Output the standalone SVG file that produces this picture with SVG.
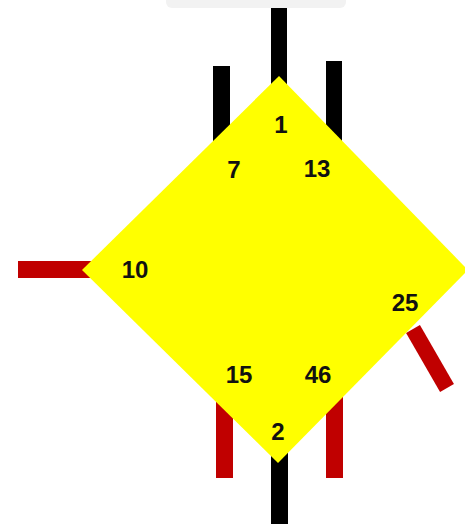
<svg xmlns="http://www.w3.org/2000/svg" width="465" height="524" viewBox="0 0 465 524">
<style>
.blk{fill:#000000}
.red{fill:#c00000}
.lbl{font-family:"Liberation Sans",Arial,sans-serif;font-weight:bold;font-size:24px;fill:#111111;text-anchor:middle}
</style>
<rect x="0" y="0" width="465" height="524" fill="#ffffff"/>
<rect x="166" y="-6" width="180" height="14" rx="6" fill="#f2f2f2"/>
<g id="connectors">
<rect class="blk" x="271" y="8" width="16" height="90"/>
<rect class="blk" x="213" y="66" width="17" height="90"/>
<rect class="blk" x="326" y="61" width="16" height="90"/>
<rect class="red" x="18" y="261" width="82" height="17"/>
<rect class="red" x="-8" y="0" width="16" height="68" transform="translate(413,329) rotate(-30)"/>
<rect class="red" x="216" y="390" width="17" height="88"/>
<rect class="red" x="326" y="390" width="17" height="88"/>
<rect class="blk" x="271" y="440" width="17" height="90"/>
</g>
<g id="diamond">
<polygon points="279,76 468,270 278,463 82,270" fill="#ffff00"/>
</g>
<g id="labels">
<text class="lbl" x="281" y="133">1</text>
<text class="lbl" x="234" y="178">7</text>
<text class="lbl" x="317" y="177">13</text>
<text class="lbl" x="135" y="278">10</text>
<text class="lbl" x="405" y="311">25</text>
<text class="lbl" x="239" y="383">15</text>
<text class="lbl" x="318" y="383">46</text>
<text class="lbl" x="278" y="440">2</text>
</g>
</svg>
